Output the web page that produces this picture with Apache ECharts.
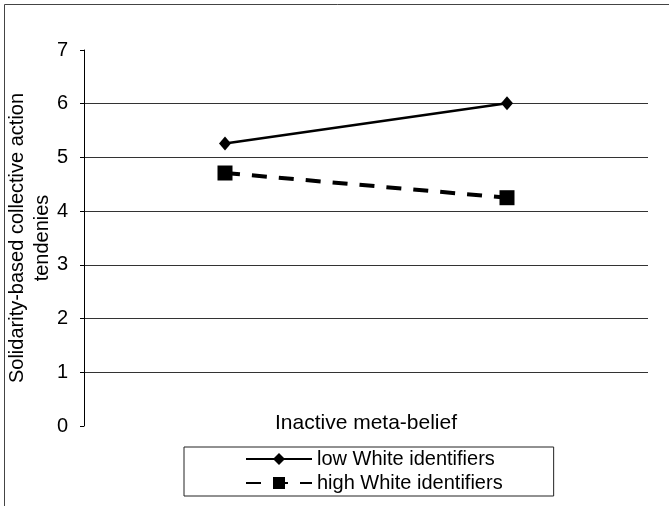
<!DOCTYPE html>
<html>
<head>
<meta charset="utf-8">
<script src="https://cdn.jsdelivr.net/npm/echarts@6/dist/echarts.min.js"></script>
<style>
html,body{margin:0;padding:0;background:#fff;}
#chart{width:669px;height:506px;}
</style>
</head>
<body>
<div id="chart"></div>
<script>
var categories = ['Point 1', 'Point 2'];
var lowWhite = [5.26, 6.01];
var highWhite = [4.71, 4.25];
var seriesNames = ['low White identifiers', 'high White identifiers'];
var yTicks = [0, 1, 2, 3, 4, 5, 6, 7];
var xTitle = 'Inactive meta-belief';
var yTitle = 'Solidarity-based collective action\ntendenies';

var FONT = '"Liberation Sans", Arial, sans-serif';
var chart = echarts.init(document.getElementById('chart'), null, {renderer: 'canvas'});
chart.setOption({
  backgroundColor: '#ffffff',
  animation: false,
  textStyle: {fontFamily: FONT, color: '#000'},
  graphic: [{
    type: 'rect',
    shape: {x: 4.5, y: 4.5, width: 800, height: 800},
    style: {fill: 'none', stroke: '#444', lineWidth: 1},
    silent: true,
    z: -1
  }],
  grid: {left: 84, right: 21, top: 50, bottom: 80, containLabel: false, outerBoundsMode: 'none'},
  legend: {
    orient: 'vertical',
    left: 184,
    top: 447,
    padding: [2, 51, 3, 61],
    itemWidth: 66,
    itemHeight: 15,
    itemGap: 4,
    borderColor: '#222',
    borderWidth: 1,
    textStyle: {fontFamily: FONT, fontSize: 20, lineHeight: 20, color: '#000'},
    data: seriesNames
  },
  xAxis: {
    type: 'category',
    data: categories,
    boundaryGap: true,
    name: xTitle,
    nameLocation: 'middle',
    nameGap: -3,
    nameMoveOverlap: false,
    nameTextStyle: {fontFamily: FONT, fontSize: 21, color: '#000', verticalAlign: 'middle'},
    axisLine: {show: false},
    axisTick: {show: false},
    axisLabel: {show: false},
    splitLine: {show: false}
  },
  yAxis: {
    type: 'value',
    min: yTicks[0],
    max: yTicks[yTicks.length - 1],
    interval: 1,
    name: yTitle,
    nameLocation: 'middle',
    nameRotate: 90,
    nameGap: 54,
    nameMoveOverlap: false,
    nameTextStyle: {fontFamily: FONT, fontSize: 20, lineHeight: 25, color: '#000', verticalAlign: 'middle', align: 'center'},
    axisLine: {show: true, lineStyle: {color: '#000', width: 1}},
    axisTick: {show: true, inside: false, length: 4, lineStyle: {color: '#000'}},
    axisLabel: {fontFamily: FONT, fontSize: 20, color: '#000', margin: 16},
    splitLine: {show: true, showMinLine: false, showMaxLine: false, lineStyle: {color: '#333', width: 1}}
  },
  series: [{
    name: seriesNames[0],
    type: 'line',
    data: lowWhite,
    symbol: 'diamond',
    symbolSize: [12, 14],
    itemStyle: {color: '#000'},
    lineStyle: {color: '#000', width: 2.5, type: 'solid'}
  }, {
    name: seriesNames[1],
    type: 'line',
    data: highWhite,
    symbol: 'rect',
    symbolSize: 15,
    itemStyle: {color: '#000'},
    lineStyle: {color: '#000', width: 4, type: [15, 12], cap: 'butt'}
  }]
});
</script>
</body>
</html>
